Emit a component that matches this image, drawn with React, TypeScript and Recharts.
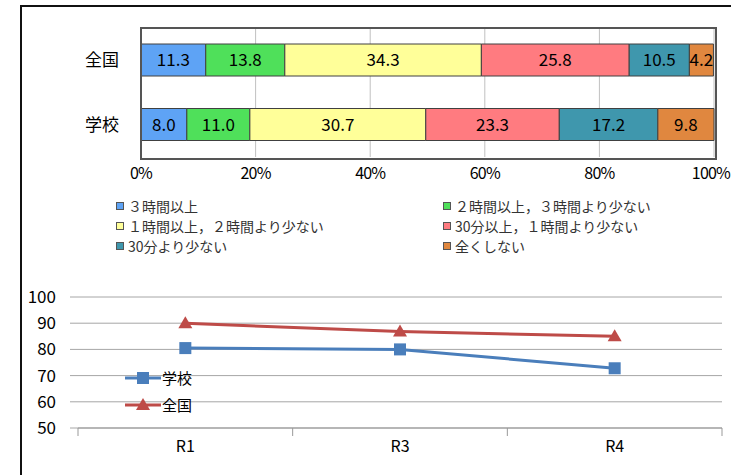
import React from "react";
import {
  BarChart,
  Bar,
  LineChart,
  Line,
  XAxis,
  YAxis,
  CartesianGrid,
  LabelList,
} from "recharts";

// ─── Data ──────────────────────────────────────────────────────────────
const GROUPS = ["全国", "学校"];
const SERIES_NAMES = [
  "３時間以上",
  "２時間以上，３時間より少ない",
  "１時間以上，２時間より少ない",
  "30分以上，１時間より少ない",
  "30分より少ない",
  "全くしない",
];
const OVER_3H = [11.3, 8.0];
const H2_TO_3 = [13.8, 11.0];
const H1_TO_2 = [34.3, 30.7];
const M30_TO_1H = [25.8, 23.3];
const UNDER_30M = [10.5, 17.2];
const NONE = [4.2, 9.8];
const PCT_TICKS = [0, 20, 40, 60, 80, 100];

const YEARS = ["R1", "R3", "R4"];
const SCHOOL = [80.5, 80.0, 72.8];
const NATIONAL = [90.0, 86.8, 85.0];
const SCORE_TICKS = [50, 60, 70, 80, 90, 100];

const SEG_COLORS = ["#5ea3f5", "#4fe05a", "#ffff99", "#ff7b80", "#3f97ad", "#e0873f"];
const SERIES_VALUES = [OVER_3H, H2_TO_3, H1_TO_2, M30_TO_1H, UNDER_30M, NONE];
const SERIES_KEYS = ["s1", "s2", "s3", "s4", "s5", "s6"];

const barData = GROUPS.map((g, i) => {
  const row: any = { group: g };
  SERIES_KEYS.forEach((k, j) => (row[k] = SERIES_VALUES[j][i]));
  return row;
});

const lineData = YEARS.map((y, i) => ({ year: y, school: SCHOOL[i], national: NATIONAL[i] }));

const FONT = "'Noto Sans CJK JP', 'Noto Sans', sans-serif";
const BLUE = "#4a7ebb";
const RED = "#be4b48";

// ─── Ticks ─────────────────────────────────────────────────────────────
const GroupTick = ({ x, y, payload }: any) => (
  <text x={x - 14} y={y} dy="0.35em" textAnchor="end" fontSize={17} fontFamily={FONT} fill="#000">
    {payload.value}
  </text>
);

// last label would spill past the page edge, so pin its right side instead
const PctTick = ({ x, y, payload }: any) => {
  const last = payload.value === PCT_TICKS[PCT_TICKS.length - 1];
  return (
    <text
      x={last ? x + 16 : x}
      y={y}
      dy={14}
      textAnchor={last ? "end" : "middle"}
      fontSize={16}
      letterSpacing={-0.8}
      fontFamily={FONT}
      fill="#000"
    >
      {payload.value}%
    </text>
  );
};

const PLOT_L = 78;
const PLOT_R = 722;
const BAND = (PLOT_R - PLOT_L) / YEARS.length;

const YearTick = ({ x, y, payload, index }: any) => (
  <g>
    <line x1={x - BAND / 2} x2={x - BAND / 2} y1={y - 8} y2={y} stroke="#999" />
    {index === YEARS.length - 1 && (
      <line x1={x + BAND / 2} x2={x + BAND / 2} y1={y - 8} y2={y} stroke="#999" />
    )}
    <text x={x} y={y} dy={16} textAnchor="middle" fontSize={16} fontFamily={FONT} fill="#000">
      {payload.value}
    </text>
  </g>
);

const Triangle = ({ cx, cy, fill }: any) => (
  <path d={`M${cx},${cy - 7} L${cx + 7},${cy + 5} L${cx - 7},${cy + 5} Z`} fill={fill} />
);
const Square = ({ cx, cy, fill }: any) => <rect x={cx - 6} y={cy - 6} width={12} height={12} fill={fill} />;

export default function App() {
  return (
    <div style={{ position: "absolute", left: 0, top: 0, width: 731, height: 475, background: "#fff", overflow: "hidden", fontFamily: FONT }}>
      {/* outer frame */}
      <div style={{ position: "absolute", left: 20, top: 5, width: 740, height: 500, borderLeft: "2px solid #111", borderTop: "2px solid #111" }} />

      {/* stacked bar chart */}
      <div style={{ position: "absolute", left: 0, top: 0 }}>
        <BarChart
          width={731}
          height={200}
          data={barData}
          layout="vertical"
          barSize={32}
          margin={{ top: 28, right: 17, bottom: 13, left: 81 }}
        >
          <CartesianGrid horizontal={false} stroke="#c0c0c0" />
          <XAxis type="number" domain={[0, 100]} ticks={PCT_TICKS} interval={0} height={30} axisLine={false} tickLine={false} tick={<PctTick />} />
          <YAxis type="category" dataKey="group" width={60} axisLine={false} tickLine={false} tick={<GroupTick />} />
          {SERIES_KEYS.map((k, j) => (
            <Bar key={k} dataKey={k} stackId="a" fill={SEG_COLORS[j]} stroke="#404040" strokeWidth={1} isAnimationActive={false}>
              <LabelList
                dataKey={k}
                position="center"
                formatter={(v: any) => Number(v).toFixed(1)}
                style={{ fontSize: 17, fontFamily: FONT, fill: "#000" }}
              />
            </Bar>
          ))}
        </BarChart>
      </div>
      {/* bar plot border */}
      <div style={{ position: "absolute", left: 140, top: 27, width: 573, height: 129, border: "2px solid #555", pointerEvents: "none" }} />

      {/* bar legend */}
      {SERIES_NAMES.map((name, i) => (
        <div
          key={name}
          style={{
            position: "absolute",
            left: i % 2 === 0 ? 116 : 443,
            top: 196 + Math.floor(i / 2) * 20,
            fontSize: 14,
            color: "#333",
            display: "flex",
            alignItems: "center",
            whiteSpace: "nowrap",
          }}
        >
          <span style={{ display: "inline-block", width: 6, height: 6, background: SEG_COLORS[i], border: "1px solid #555", marginRight: 4 }} />
          {name}
        </div>
      ))}

      {/* line chart */}
      <div style={{ position: "absolute", left: 0, top: 280 }}>
        <LineChart width={731} height={195} data={lineData} margin={{ top: 17, right: 9, bottom: 17, left: 18 }}>
          <CartesianGrid vertical={false} stroke="#a6a6a6" />
          <XAxis
            dataKey="year"
            height={30}
            padding={{ left: BAND / 2, right: BAND / 2 }}
            interval={0}
            axisLine={{ stroke: "#999" }}
            tickLine={false}
            tick={<YearTick />}
          />
          <YAxis
            domain={[50, 100]}
            ticks={SCORE_TICKS}
            interval={0}
            width={60}
            axisLine={false}
            tickLine={{ stroke: "#a6a6a6" }}
            tickSize={8}
            tickMargin={14}
            tick={{ fontSize: 17, fontFamily: FONT, fill: "#000" }}
          />
          <Line dataKey="school" stroke={BLUE} strokeWidth={3} dot={<Square fill={BLUE} />} isAnimationActive={false} />
          <Line dataKey="national" stroke={RED} strokeWidth={3} dot={<Triangle fill={RED} />} isAnimationActive={false} />
        </LineChart>
      </div>

      {/* line legend */}
      {[
        { name: "学校", color: BLUE, top: 367, marker: "square" },
        { name: "全国", color: RED, top: 394, marker: "tri" },
      ].map((it) => (
        <div key={it.name} style={{ position: "absolute", left: 124, top: it.top, display: "flex", alignItems: "center", fontSize: 15, color: "#000" }}>
          <svg width={38} height={16}>
            <line x1={1} x2={37} y1={8} y2={8} stroke={it.color} strokeWidth={3} />
            {it.marker === "square" ? (
              <rect x={13} y={2} width={12} height={12} fill={it.color} />
            ) : (
              <path d="M19,1 L26,13 L12,13 Z" fill={it.color} />
            )}
          </svg>
          <span>{it.name}</span>
        </div>
      ))}
    </div>
  );
}
